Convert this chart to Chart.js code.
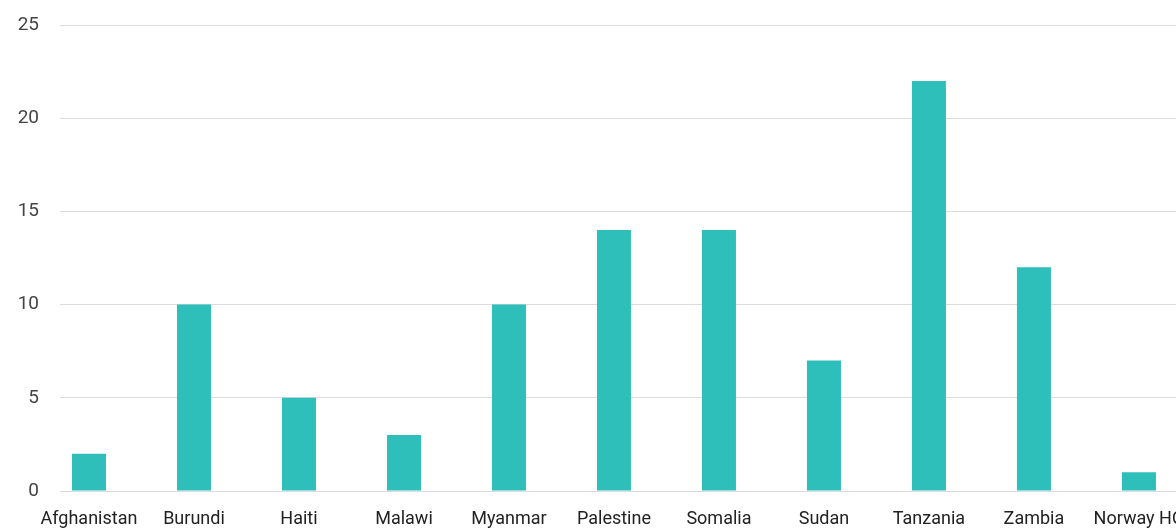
<!DOCTYPE html>
<html>
<head>
<meta charset="utf-8">
<script src="https://cdn.jsdelivr.net/npm/chart.js@4"></script>
<style>
    html, body { margin: 0; padding: 0; background: #fff; overflow: hidden; }
    #wrap { width: 1176px; height: 529px; }
</style>
</head>
<body>
<div id="wrap"><canvas id="grafico" width="1176" height="529"></canvas></div>
<script>
const paises = ['Afghanistan', 'Burundi', 'Haiti', 'Malawi', 'Myanmar', 'Palestine',
    'Somalia', 'Sudan', 'Tanzania', 'Zambia', 'Norway HQ'];
const valores = [2, 10, 5, 3, 10, 14, 14, 7, 22, 12, 1];
const ticksY = [0, 5, 10, 15, 20, 25];

// barras em eixo linear para deixar a primeira categoria colada no eixo y
const pontos = paises.map((p, i) => ({ x: i, y: valores[i] }));

new Chart(document.getElementById('grafico'), {
    type: 'bar',
    data: {
        datasets: [{
            data: pontos,
            backgroundColor: '#2ebfba',
            borderWidth: 0,
            barPercentage: 0.324,
            categoryPercentage: 1
        }]
    },
    options: {
        responsive: false,
        animation: false,
        layout: { padding: { top: 25, left: 0, right: 0, bottom: 0 } },
        plugins: { legend: { display: false }, tooltip: { enabled: false } },
        scales: {
            x: {
                type: 'linear',
                offset: false,
                min: -0.276,
                max: 10.353,
                afterFit: escala => {
                    escala.paddingLeft = 0;
                    escala.paddingRight = 0;
                    escala.height = 38;
                },
                grid: { display: false, drawTicks: false, offset: false },
                border: { display: false },
                ticks: {
                    stepSize: 1,
                    includeBounds: false,
                    autoSkip: false,
                    maxRotation: 0,
                    padding: 18,
                    color: '#222',
                    font: { family: 'Roboto', size: 18 },
                    callback: v => Number.isInteger(v) && paises[v] ? paises[v] : ''
                }
            },
            y: {
                min: 0,
                max: 25,
                afterFit: escala => {
                    escala.width = 60;
                    escala.paddingTop = 0;
                    escala.paddingBottom = 0;
                },
                afterBuildTicks: escala => { escala.ticks = ticksY.map(v => ({ value: v })); },
                grid: { color: '#dcdcdc', lineWidth: 1, drawTicks: false },
                border: { display: false },
                ticks: {
                    padding: 21,
                    color: '#444',
                    font: { family: 'Roboto', size: 19 }
                }
            }
        }
    }
});
</script>
</body>
</html>
